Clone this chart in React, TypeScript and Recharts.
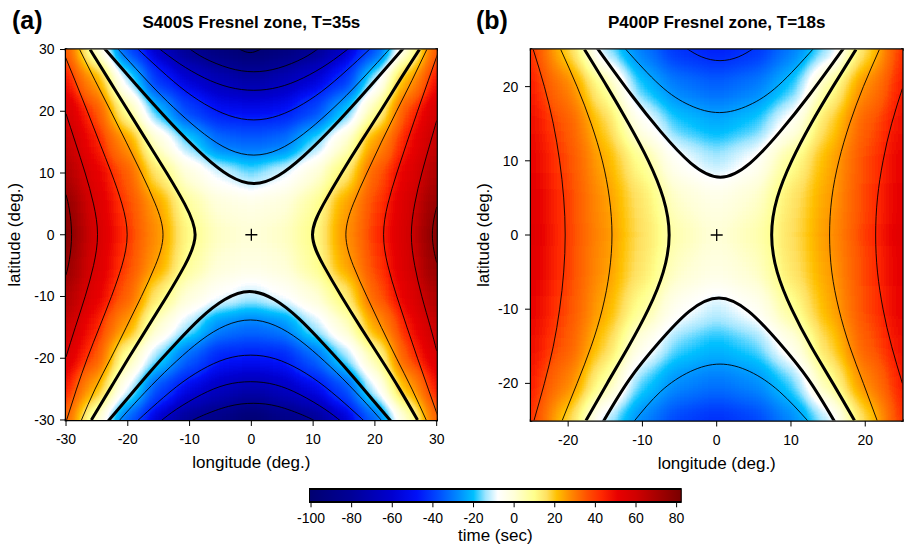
import React from "react";
import { Bar, BarChart, Scatter, ScatterChart, XAxis, YAxis } from "recharts";

type Pt = [number, number];

// colour table: travel-time difference (s) -> colour
const CPT_VALUES = [-101, -80, -60, -48, -38, -28, -20, -14, -8, 0, 10, 16, 21, 28, 36, 43, 51, 60, 70, 82.5];
const CPT_COLORS = [
  "#000070", "#000098", "#0000d0", "#0010f8", "#0048ff", "#0088ff", "#00c0ff", "#a0e6ff", "#ffffff", "#ffffd8",
  "#ffff8c", "#ffe060", "#ffc000", "#ff8800", "#ff5000", "#ff2800", "#e80000", "#d00000", "#a80000", "#780000",
];
const CBAR_TICKS = [-100, -80, -60, -40, -20, 0, 20, 40, 60, 80];

// ---- panel (a): S400S, T=35s ----
const LON_A = [-30, -25, -20, -15, -10, -5, 0, 5, 10, 15, 20, 25, 30];
const LAT_A = [30, 25, 20, 15, 10, 5, 0, -5, -10, -15, -20, -25, -30];
const TIME_A = [
  [36.4, 1, -38.4, -64.6, -83.4, -94.6, -104, -94.6, -83.4, -64.6, -38.4, -1.5, 36.4],
  [48.8, 25.2, -12.1, -42.8, -59, -69.6, -75.3, -69.6, -59, -42.8, -12.1, 23.6, 48.8],
  [58.3, 37.6, 8, -20.3, -39, -49.6, -52.1, -49.6, -39, -20.3, 7, 37.6, 58.3],
  [63.3, 46.5, 26.4, 0, -17.1, -32.1, -34.6, -32.1, -17.1, 0, 25.8, 46.5, 63.3],
  [68.9, 52.7, 34.8, 13.5, -1.5, -10.3, -15.9, -10.3, -1.5, 12.9, 34.2, 52.7, 68.9],
  [76.2, 56.6, 38.7, 24.7, 7, -1, -3, -1, 7, 24.1, 38.7, 56.6, 75.6],
  [80, 57.7, 40.9, 26.9, 10.7, 2.3, 0, 2.3, 10.1, 26.4, 40.9, 57.7, 78.4],
  [75.6, 56.6, 38.7, 24.7, 7.5, -0.5, -2.8, -0.5, 7.5, 24.1, 38.7, 56.6, 75.1],
  [68.9, 52.1, 34.2, 12.9, -1, -8, -12.1, -8, -1, 12.4, 34.2, 52.1, 68.9],
  [62.2, 45.4, 25.2, 0.5, -13.4, -28.4, -32.1, -28.4, -13.4, 0.5, 24.7, 45.4, 62.2],
  [56.6, 36.4, 6, -15.9, -34.6, -45.9, -48.4, -45.9, -34.6, -15.9, 5.5, 36.4, 56.6],
  [47.6, 23, -8.7, -38.4, -54.6, -65.9, -72.1, -65.9, -54.6, -38.4, -9.6, 22.4, 47.6],
  [34.2, 1.5, -34.6, -62.1, -82.1, -89.6, -99.6, -89.6, -82.1, -62.1, -34.6, 0, 34.2],
];

// Fresnel zone edges (thick) and the other contours (thin), [lon, lat]
const A_EDGE_TOP: Pt[] = [[-23.8, 30.2], [-19.6, 25.4], [-15.6, 20.9], [-11.6, 16.6], [-7.6, 12.7], [-3.6, 9.6], [0.4, 8.3], [4.4, 9.6], [8.4, 12.7], [12.4, 16.6], [16.4, 20.9], [20.4, 25.4], [24.6, 30.2]];
const A_EDGE_BOTTOM: Pt[] = [[-23.2, -30.2], [-20.3, -26.8], [-16.3, -22.1], [-12.3, -17.7], [-8.3, -13.6], [-4.3, -10.5], [-0.3, -9.2], [3.7, -10.5], [7.7, -13.6], [11.7, -17.7], [15.7, -22.1], [19.7, -26.8], [22.6, -30.2]];
const A_EDGE_LEFT: Pt[] = [[-26.1, 30], [-23, 25], [-19.9, 20], [-16.8, 15], [-13.7, 10], [-10.8, 5], [-9.1, 0], [-10.8, -5], [-13.7, -10], [-16.8, -15], [-19.9, -20], [-22.9, -25], [-25.9, -30]];
const A_EDGE_RIGHT: Pt[] = [[27.2, 30], [24, 25], [20.9, 20], [17.7, 15], [14.6, 10], [11.7, 5], [9.9, 0], [11.7, -5], [14.6, -10], [17.7, -15], [20.9, -20], [24, -25], [26.9, -30]];

const A_TOP_1: Pt[] = [[-21.6, 30.1], [-19.6, 27.9], [-15.6, 23.6], [-11.6, 19.7], [-7.6, 16.3], [-3.6, 13.8], [0.4, 12.9], [4.4, 13.8], [8.4, 16.3], [12.4, 19.7], [16.4, 23.6], [20.4, 27.9], [22.4, 30.1]];
const A_TOP_2: Pt[] = [[-18.4, 30.1], [-15.6, 27.5], [-11.6, 24], [-7.6, 21.2], [-3.6, 19.3], [0.4, 18.6], [4.4, 19.3], [8.4, 21.2], [12.4, 24], [16.4, 27.5], [19.2, 30.1]];
const A_TOP_3: Pt[] = [[-15, 30.2], [-11.6, 27.7], [-7.6, 25.4], [-3.6, 23.9], [0.4, 23.4], [4.4, 23.9], [8.4, 25.4], [12.4, 27.7], [15.8, 30.2]];
const A_TOP_4: Pt[] = [[-10.1, 30.2], [-7.6, 28.6], [-3.6, 27], [0.4, 26.4], [4.4, 27], [8.4, 28.6], [10.9, 30.2]];
const A_TOP_5: Pt[] = [[-2, 30.1], [-1, 29.65], [-0.2, 29.5], [0.6, 29.65], [1.6, 30.1]];
const A_BOT_1: Pt[] = [[-21.45, -30.2], [-20.15, -28.7], [-16.15, -24.4], [-12.15, -20.5], [-8.15, -17.1], [-4.15, -14.7], [-0.15, -13.8], [3.85, -14.7], [7.85, -17.1], [11.85, -20.5], [15.85, -24.4], [19.85, -28.7], [21.15, -30.2]];
const A_BOT_2: Pt[] = [[-18.5, -30.2], [-16.1, -28], [-12.1, -24.6], [-8.1, -21.9], [-4.1, -20.1], [-0.1, -19.5], [3.9, -20.1], [7.9, -21.9], [11.9, -24.6], [15.9, -28], [18.3, -30.2]];
const A_BOT_3: Pt[] = [[-14.7, -30.2], [-12.1, -28.25], [-8.1, -25.9], [-4.1, -24.3], [-0.1, -23.8], [3.9, -24.3], [7.9, -25.9], [11.9, -28.25], [14.5, -30.2]];
const A_BOT_4: Pt[] = [[-9.6, -30.1], [-7.7, -29.2], [-3.7, -27.8], [0.3, -27.3], [4.3, -27.8], [8.3, -29.2], [10.2, -30.1]];
const A_LEFT_1: Pt[] = [[-27.8, 30], [-25.3, 25], [-22.75, 20], [-20.25, 15], [-17.8, 10], [-15.55, 5], [-14.3, 0], [-15.55, -5], [-17.8, -10], [-20.25, -15], [-22.75, -20], [-25.3, -25], [-27.5, -30]];
const A_LEFT_2: Pt[] = [[-30.6, 30], [-28.55, 25], [-26.55, 20], [-24.6, 15], [-22.65, 10], [-20.95, 5], [-20.1, 0], [-20.95, -5], [-22.65, -10], [-24.6, -15], [-26.55, -20], [-28.3, -25], [-29.9, -30]];
const A_LEFT_3: Pt[] = [[-30, 19.6], [-28.5, 15], [-26.9, 10], [-25.55, 5], [-24.9, 0], [-25.55, -5], [-26.9, -10], [-28.5, -15], [-30, -19.8]];
const A_LEFT_4: Pt[] = [[-30, 6.5], [-29.45, 4], [-29.1, 0], [-29.45, -4], [-30, -6.5]];
const A_RIGHT_1: Pt[] = [[28.4, 30], [26, 25], [23.5, 20], [21.05, 15], [18.7, 10], [16.5, 5], [15.3, 0], [16.5, -5], [18.7, -10], [21.05, -15], [23.5, -20], [26, -25], [28.3, -30]];
const A_RIGHT_2: Pt[] = [[30.4, 30], [28.65, 25], [26.9, 20], [25.2, 15], [23.55, 10], [22.1, 5], [21.4, 0], [22.1, -5], [23.55, -10], [25.2, -15], [26.9, -20], [28.65, -25], [30.4, -30]];
const A_RIGHT_3: Pt[] = [[30, 18.5], [29, 15], [27.6, 10], [26.45, 5], [25.9, 0], [26.45, -5], [27.6, -10], [29, -15], [30, -18.8]];
const A_RIGHT_4: Pt[] = [[30, 4.5], [29.55, 2.5], [29.3, 0], [29.55, -2.5], [30, -4.5]];

// ---- panel (b): P400P, T=18s ----
const LON_B = [-25, -20, -15, -10, -5, 0, 5, 10, 15, 20, 25];
const LAT_B = [25, 20, 15, 10, 5, 0, -5, -10, -15, -20, -25];
const TIME_B = [
  [43.7, 18, -14, -30.6, -42.6, -47.5, -42.6, -30.6, -14.5, 15.7, 43.7],
  [46, 29.2, 8, -19.6, -29.9, -33.8, -29.9, -19.6, 7, 28, 46],
  [49.3, 34.8, 18, -5.5, -18.8, -22.6, -18.8, -5.5, 17.4, 34.2, 49.3],
  [51.6, 38.1, 23.3, 8.5, -7.5, -13.2, -7.5, 8.5, 23, 37.6, 51.6],
  [53.8, 39.7, 25.8, 14.3, 1, -3.7, 1, 14.3, 25.2, 39.2, 53.2],
  [54.9, 40.1, 26.7, 15.7, 4.7, 0, 4.7, 15.7, 26.4, 39.8, 53.8],
  [53.8, 39.7, 25.8, 14.3, 1.5, -3.1, 1.5, 14.3, 25.2, 39.2, 53.2],
  [51.6, 38.1, 23.3, 8, -6.5, -11.8, -6.5, 8, 23, 37.6, 51.6],
  [49.3, 34.8, 18, -4, -17.1, -21.1, -17.1, -4, 17.4, 34.2, 49.3],
  [46, 29.2, 7.5, -17.6, -27.7, -31, -27.7, -17.6, 7, 28.6, 46],
  [43.7, 18.4, -12.3, -28.8, -39.3, -43.1, -39.3, -28.8, -12.9, 16.8, 43.7],
];

const B_EDGE_TOP: Pt[] = [[-16.1, 25.2], [-11.5, 18.9], [-7.5, 13.9], [-3.5, 9.7], [0.5, 7.8], [4.5, 9.7], [8.5, 13.9], [12.5, 18.9], [17.1, 25.2]];
const B_EDGE_BOTTOM: Pt[] = [[-15.3, -25.2], [-11.7, -19.4], [-7.7, -14.4], [-3.7, -10.3], [0.3, -8.5], [4.3, -10.3], [8.3, -14.4], [12.3, -19.4], [15.9, -25.2]];
const B_EDGE_LEFT: Pt[] = [[-17.8, 25], [-14.75, 20], [-11.85, 15], [-9.2, 10], [-7.2, 5], [-6.4, 0], [-7.2, -5], [-9.2, -10], [-11.85, -15], [-14.75, -20], [-17.6, -25]];
const B_EDGE_RIGHT: Pt[] = [[18.75, 25], [15.65, 20], [12.7, 15], [10.1, 10], [8.15, 5], [7.4, 0], [8.15, -5], [10.1, -10], [12.7, -15], [15.65, -20], [18.55, -25]];
const B_TOP_1: Pt[] = [[-12.4, 25.2], [-7.65, 20.2], [-3.65, 17.5], [0.35, 16.5], [4.35, 17.5], [8.35, 20.2], [13.1, 25.2]];
const B_TOP_2: Pt[] = [[-4, 25.1], [-2, 24], [0.45, 23.5], [2.9, 24], [4.9, 25.1]];
const B_BOT_1: Pt[] = [[-11.2, -25.2], [-7.55, -21.1], [-3.55, -18.4], [0.45, -17.4], [4.45, -18.4], [8.45, -21.1], [12.4, -25.2]];
const B_LEFT_1: Pt[] = [[-21, 25], [-18.8, 20], [-16.9, 15], [-15.4, 10], [-14.45, 5], [-14.1, 0], [-14.45, -5], [-15.4, -10], [-16.9, -15], [-18.8, -20], [-20.8, -25]];
const B_LEFT_2: Pt[] = [[-24.7, 25], [-23.2, 20], [-22, 15], [-21.15, 10], [-20.6, 5], [-20.4, 0], [-20.6, -5], [-21.15, -10], [-22, -15], [-23.2, -20], [-24.6, -25]];
const B_RIGHT_1: Pt[] = [[21.9, 25], [19.75, 20], [17.9, 15], [16.45, 10], [15.5, 5], [15.2, 0], [15.5, -5], [16.45, -10], [17.9, -15], [19.75, -20], [21.6, -25]];
const B_RIGHT_2: Pt[] = [[25, 19.75], [23.55, 15], [22.4, 10], [21.65, 5], [21.4, 0], [21.65, -5], [22.4, -10], [23.55, -15], [25, -20]];

const H = 549;
const FONT = '"Liberation Sans", Arial, Helvetica, sans-serif';
// axes take no room of their own (a zero size would stop them drawing)
const THIN = 0.01;
const T_MIN = CPT_VALUES[0];
const T_MAX = CPT_VALUES[CPT_VALUES.length - 1];

const hex = (c: string) => [1, 3, 5].map((i) => parseInt(c.slice(i, i + 2), 16));

function rgbAt(t: number): number[] {
  const n = CPT_VALUES.length;
  if (t <= CPT_VALUES[0]) return hex(CPT_COLORS[0]);
  if (t >= CPT_VALUES[n - 1]) return hex(CPT_COLORS[n - 1]);
  let i = 1;
  while (t > CPT_VALUES[i]) i++;
  const f = (t - CPT_VALUES[i - 1]) / (CPT_VALUES[i] - CPT_VALUES[i - 1]);
  const a = hex(CPT_COLORS[i - 1]);
  const b = hex(CPT_COLORS[i]);
  return a.map((v, k) => v + (b[k] - v) * f);
}

// piecewise-linear grey encoding: more grey levels where the colours change fastest
const ENC_T = [T_MIN, -45, 35, T_MAX];
const ENC_G = [0, 0.2, 0.85, 1];
const lerpTable = (v: number, xs: number[], ys: number[]) => {
  if (v <= xs[0]) return ys[0];
  if (v >= xs[xs.length - 1]) return ys[ys.length - 1];
  let i = 1;
  while (v > xs[i]) i++;
  return ys[i - 1] + ((v - xs[i - 1]) / (xs[i] - xs[i - 1])) * (ys[i] - ys[i - 1]);
};
const encode = (t: number) => lerpTable(t, ENC_T, ENC_G);
const decode = (g: number) => lerpTable(g, ENC_G, ENC_T);

// lookup tables for feComponentTransfer: grey level -> colour
const LUT_SIZE = 256;
const LUT = Array.from({ length: LUT_SIZE }, (_, k) => rgbAt(decode(k / (LUT_SIZE - 1))));
const lutChannel = (c: number) => LUT.map((rgb) => (rgb[c] / 255).toFixed(4)).join(" ");

// the field is drawn as grey (encoded value), smoothed, then coloured through the table
const grey = (t: number) => {
  const g = Math.round(encode(t) * 255);
  return `rgb(${g},${g},${g})`;
};

const toPts = (arr: Pt[]) => arr.map(([x, y]) => ({ x, y }));
const noMark = () => <g />;
const plusMark = (p: any) => (
  <g stroke="#000" strokeWidth={1.3}>
    <line x1={p.cx - 6} x2={p.cx + 6} y1={p.cy} y2={p.cy} />
    <line x1={p.cx} x2={p.cx} y1={p.cy - 6} y2={p.cy + 6} />
  </g>
);

interface PanelProps {
  id: string;
  left: number;
  width: number;
  margin: { top: number; right: number; bottom: number; left: number };
  lim: number;
  lon: number[];
  lat: number[];
  time: number[][];
  major: number[];
  minor: number[];
  edges: Pt[][];
  lines: Pt[][];
  yLabelOffset: number;
  yTickMargin: number;
}

function Panel(p: PanelProps) {
  const plotW = p.width - p.margin.left - p.margin.right;
  const plotH = H - p.margin.top - p.margin.bottom;
  const step = p.lon[1] - p.lon[0];
  const cw = (plotW / (2 * p.lim)) * step + 0.6;
  const ch = (plotH / (2 * p.lim)) * step + 0.6;
  const heat = p.lat.flatMap((la, i) => p.lon.map((lo, j) => ({ x: lo, y: la, t: p.time[i][j] })));

  // grid cell; outer cells run past the frame so the smoothing does not fade at the border
  const cell = (s: any) => {
    const ext = 45;
    let x0 = s.cx - cw / 2;
    let x1 = s.cx + cw / 2;
    let y0 = s.cy - ch / 2;
    let y1 = s.cy + ch / 2;
    if (s.payload.x <= -p.lim) x0 -= ext;
    if (s.payload.x >= p.lim) x1 += ext;
    if (s.payload.y >= p.lim) y0 -= ext;
    if (s.payload.y <= -p.lim) y1 += ext;
    return <rect x={x0} y={y0} width={x1 - x0} height={y1 - y0} fill={grey(s.payload.t)} />;
  };

  const dom: [number, number] = [-p.lim, p.lim];
  const frame = { stroke: "#000", strokeWidth: 2.5, strokeLinecap: "square" as const };
  const tickLine = { stroke: "#000", strokeWidth: 1 };
  const tickText = { fontSize: 14, fill: "#000" };

  return (
    <div style={{ position: "absolute", left: p.left, top: 0 }}>
      <ScatterChart width={p.width} height={H} margin={p.margin}>
        <XAxis xAxisId="bm" orientation="bottom" type="number" dataKey="x" domain={dom} ticks={p.minor} tick={false} tickSize={3} tickLine={tickLine} axisLine={false} height={THIN} />
        <XAxis xAxisId="tm" orientation="top" type="number" dataKey="x" domain={dom} ticks={p.minor} tick={false} tickSize={3} tickLine={tickLine} axisLine={false} height={THIN} />
        <YAxis yAxisId="lm" orientation="left" type="number" dataKey="y" domain={dom} ticks={p.minor} tick={false} tickSize={3} tickLine={tickLine} axisLine={false} width={THIN} />
        <YAxis yAxisId="rm" orientation="right" type="number" dataKey="y" domain={dom} ticks={p.minor} tick={false} tickSize={3} tickLine={tickLine} axisLine={false} width={THIN} />
        <XAxis
          xAxisId="b"
          orientation="bottom"
          type="number"
          dataKey="x"
          domain={dom}
          ticks={p.major}
          allowDataOverflow
          height={THIN}
          tickSize={6}
          tickMargin={8.4}
          tick={tickText}
          tickLine={tickLine}
          axisLine={frame}
          label={{ value: "longitude (deg.)", position: "bottom", offset: 36.2, fontSize: 17, fill: "#000" }}
        />
        <XAxis xAxisId="t" orientation="top" type="number" dataKey="x" domain={dom} ticks={p.major} tick={false} tickSize={6} tickLine={tickLine} axisLine={frame} height={THIN} />
        <YAxis
          yAxisId="l"
          orientation="left"
          type="number"
          dataKey="y"
          domain={dom}
          ticks={p.major}
          allowDataOverflow
          width={THIN}
          tickSize={6}
          tickMargin={p.yTickMargin}
          tick={tickText}
          tickLine={tickLine}
          axisLine={frame}
          label={{
            value: "latitude (deg.)",
            angle: -90,
            position: "left",
            offset: p.yLabelOffset,
            fontSize: 17,
            fill: "#000",
            style: { textAnchor: "middle" },
          }}
        />
        <YAxis yAxisId="r" orientation="right" type="number" dataKey="y" domain={dom} ticks={p.major} tick={false} tickSize={6} tickLine={tickLine} axisLine={frame} width={THIN} />

        <Scatter xAxisId="b" yAxisId="l" data={heat} shape={cell} className={`heat-${p.id}`} isAnimationActive={false} legendType="none" />
        {p.lines.map((c, i) => (
          <Scatter
            key={`c${i}`}
            xAxisId="b"
            yAxisId="l"
            data={toPts(c)}
            line={{ stroke: "#000", strokeWidth: 0.9 }}
            lineJointType="natural"
            shape={noMark}
            isAnimationActive={false}
            legendType="none"
          />
        ))}
        {p.edges.map((c, i) => (
          <Scatter
            key={`e${i}`}
            xAxisId="b"
            yAxisId="l"
            data={toPts(c)}
            line={{ stroke: "#000", strokeWidth: 3 }}
            lineJointType="natural"
            shape={noMark}
            isAnimationActive={false}
            legendType="none"
          />
        ))}
        <Scatter xAxisId="b" yAxisId="l" data={[{ x: 0, y: 0 }]} shape={plusMark} isAnimationActive={false} legendType="none" />
      </ScatterChart>
    </div>
  );
}

// colour scale: one ranged bar spanning the whole table
const CBAR_DATA = [{ name: "time", span: [T_MIN, T_MAX] }];

function ColorBar() {
  return (
    <div style={{ position: "absolute", left: 290, top: 470 }}>
      <BarChart width={410} height={79} data={CBAR_DATA} layout="vertical" barCategoryGap={0} margin={{ top: 19, right: 18.3, bottom: 46.7, left: 19 }}>
        <XAxis
          type="number"
          domain={[T_MIN, T_MAX]}
          ticks={CBAR_TICKS}
          allowDataOverflow
          height={THIN}
          tickSize={5}
          tickMargin={6.1}
          tick={{ fontSize: 14, fill: "#000" }}
          tickLine={{ stroke: "#000", strokeWidth: 1 }}
          axisLine={false}
          label={{ value: "time (sec)", position: "bottom", offset: 27.1, fontSize: 17, fill: "#000" }}
        />
        <YAxis type="category" dataKey="name" hide />
        <Bar dataKey="span" fill="url(#cbarGrad)" stroke="#000" strokeWidth={2} isAnimationActive={false} legendType="none" />
      </BarChart>
    </div>
  );
}

function HeatFilter({ id, blur }: { id: string; blur: number }) {
  return (
    <filter id={id} x="-5%" y="-5%" width="110%" height="110%" colorInterpolationFilters="sRGB">
      <feGaussianBlur stdDeviation={blur} />
      <feComponentTransfer>
        <feFuncR type="table" tableValues={lutChannel(0)} />
        <feFuncG type="table" tableValues={lutChannel(1)} />
        <feFuncB type="table" tableValues={lutChannel(2)} />
      </feComponentTransfer>
    </filter>
  );
}

export default function App() {
  return (
    <div style={{ position: "absolute", left: 0, top: 0, width: 904, height: H, background: "#fff", fontFamily: FONT, overflow: "hidden" }}>
      <style>{`.heat-a { filter: url(#heatA); } .heat-b { filter: url(#heatB); }`}</style>
      <svg width={0} height={0} style={{ position: "absolute" }}>
        <defs>
          <HeatFilter id="heatA" blur={10} />
          <HeatFilter id="heatB" blur={12} />
          <linearGradient id="cbarGrad" x1="0" y1="0" x2="1" y2="0">
            {CPT_VALUES.map((v, i) => (
              <stop key={i} offset={(v - T_MIN) / (T_MAX - T_MIN)} stopColor={CPT_COLORS[i]} />
            ))}
          </linearGradient>
        </defs>
      </svg>

      <Panel
        id="a"
        left={0}
        width={450}
        margin={{ top: 49.5, right: 13.3, bottom: 129, left: 66 }}
        lim={30}
        lon={LON_A}
        lat={LAT_A}
        time={TIME_A}
        major={[-30, -20, -10, 0, 10, 20, 30]}
        minor={[-25, -15, -5, 5, 15, 25]}
        edges={[A_EDGE_TOP, A_EDGE_BOTTOM, A_EDGE_LEFT, A_EDGE_RIGHT]}
        lines={[A_TOP_1, A_TOP_2, A_TOP_3, A_TOP_4, A_TOP_5, A_BOT_1, A_BOT_2, A_BOT_3, A_BOT_4, A_LEFT_1, A_LEFT_2, A_LEFT_3, A_LEFT_4, A_RIGHT_1, A_RIGHT_2, A_RIGHT_3, A_RIGHT_4]}
        yLabelOffset={51.6}
        yTickMargin={5.5}
      />
      <Panel
        id="b"
        left={450}
        width={454}
        margin={{ top: 49.5, right: 1.6, bottom: 128.5, left: 81 }}
        lim={25}
        lon={LON_B}
        lat={LAT_B}
        time={TIME_B}
        major={[-20, -10, 0, 10, 20]}
        minor={[-25, -15, -5, 5, 15, 25]}
        edges={[B_EDGE_TOP, B_EDGE_BOTTOM, B_EDGE_LEFT, B_EDGE_RIGHT]}
        lines={[B_TOP_1, B_TOP_2, B_BOT_1, B_LEFT_1, B_LEFT_2, B_RIGHT_1, B_RIGHT_2]}
        yLabelOffset={48.2}
        yTickMargin={6.7}
      />
      <ColorBar />

      <svg width={904} height={H} style={{ position: "absolute", left: 0, top: 0, pointerEvents: "none" }}>
        <g fontFamily={FONT} fontWeight="bold" fill="#000">
          <text x={12} y={28.5} fontSize={25}>(a)</text>
          <text x={251.4} y={28.3} fontSize={17} textAnchor="middle">S400S Fresnel zone, T=35s</text>
          <text x={476} y={28.5} fontSize={25}>(b)</text>
          <text x={716.7} y={28.3} fontSize={17} textAnchor="middle">P400P Fresnel zone, T=18s</text>
        </g>
      </svg>
    </div>
  );
}
